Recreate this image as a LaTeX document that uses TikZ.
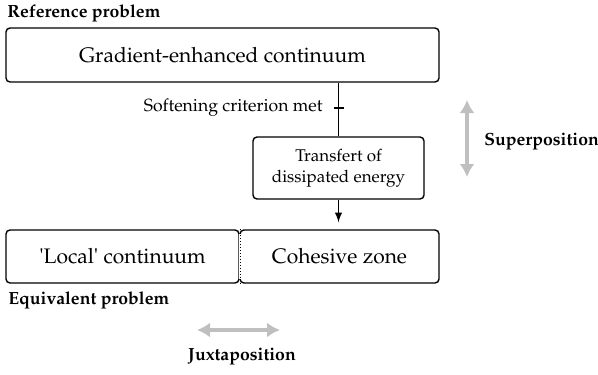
\documentclass[tikz,border=0pt]{standalone}
\usepackage[T1]{fontenc}
\usepackage{mathpazo}
\usepackage{tikz}
\usetikzlibrary{calc,shapes,arrows,arrows.meta}

\tikzset{
  blok/.style={draw, rounded corners=2pt, line width=0.7pt, inner sep=0pt,
    font=\fontsize{10.5}{12.5}\selectfont},
  kleinblok/.style={draw, rounded corners=2pt, line width=0.7pt, inner sep=0pt,
    align=center, font=\fontsize{8.5}{10.5}\selectfont},
  titel/.style={inner sep=0pt, font=\fontsize{8.8}{10}\selectfont\bfseries},
  grijspijl/.style={{Latex[length=6.5pt,width=7.5pt]}-{Latex[length=6.5pt,width=7.5pt]},
    line width=2pt, color=black!25}
}

\begin{document}
\begin{tikzpicture}[x=0.5pt, y=-0.5pt]
        \useasboundingbox (0,0) rectangle (598,374);
        % referentieprobleem
        \node[titel, anchor=west] (reftitel) at (7,13) {Reference problem};
        \node[blok, minimum width=216.5pt, minimum height=27pt] (gradient) at (222.5,55)
            {Gradient-enhanced continuum};
        \node[kleinblok, minimum width=85.5pt, minimum height=31pt] (transfer) at (338.5,168)
            {Transfert of\\dissipated energy};
        % equivalent probleem
        \node[blok, minimum width=116.5pt, minimum height=26.5pt] (lokaal) at (122.5,256.5)
            {\textquotesingle Local\textquotesingle\ continuum};
        \node[blok, minimum width=99.5pt, minimum height=26.5pt] (cohesief) at (339.5,256.5)
            {Cohesive zone};
        \draw[white, line width=1.2pt] ($(lokaal.north east)+(0.5,5)$) -- ($(lokaal.south east)+(0.5,-5)$);
        \draw[densely dotted, line width=0.5pt] ($(lokaal.north east)+(0.5,0)$) -- ($(lokaal.south east)+(0.5,0)$);
        \node[titel, anchor=west] (eqtitel) at (8,300) {Equivalent problem};
        % verbindingen
        \draw[line width=0.7pt] (gradient.south -| transfer.north) -- (transfer.north);
        \coordinate (kruis) at (339,108);
        \draw[line width=0.7pt] ($(kruis)+(-5,0)$) -- ($(kruis)+(5,0)$);
        \node[anchor=east, inner sep=0pt, font=\fontsize{8.8}{10}\selectfont] (zacht)
            at ($(kruis)+(-16,0)$) {Softening criterion met};
        \draw[-latex, line width=0.7pt, shorten >=3.5pt] (transfer.south) -- (transfer.south |- cohesief.north);
        % superpositie en juxtapositie
        \coordinate (sup1) at (467,100);
        \coordinate (sup2) at (467,177);
        \draw[grijspijl] (sup1) -- (sup2);
        \node[titel, anchor=west] (superpos) at (484,142) {Superposition};
        \coordinate (jux1) at (197,330);
        \coordinate (jux2) at (280,330);
        \draw[grijspijl] (jux1) -- (jux2);
        \node[titel] (juxtapos) at (242,357) {Juxtaposition};
    \end{tikzpicture}
\end{document}
